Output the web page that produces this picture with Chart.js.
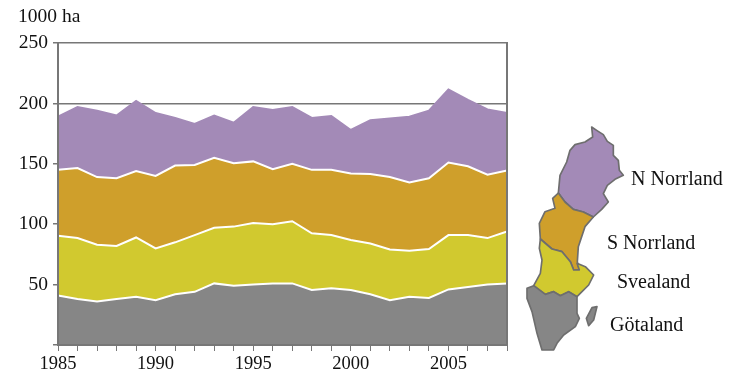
<!DOCTYPE html>
<html>
<head>
<meta charset="utf-8">
<script src="https://cdn.jsdelivr.net/npm/chart.js@4/dist/chart.umd.min.js"></script>
<style>
  html, body { margin: 0; padding: 0; background: #fff; }
  #wrap { position: relative; width: 745px; height: 375px; overflow: hidden; }
  #chart { position: absolute; left: 0; top: 0; }
  #unit { position: absolute; left: 18px; top: 5px; font: 19.5px "Liberation Serif"; color: #111; }
  #map { position: absolute; left: 520px; top: 115px; }
  .lab { position: absolute; font: 20px "Liberation Serif"; color: #111; white-space: nowrap; }
</style>
</head>
<body>
<div id="wrap">
  <canvas id="chart" width="745" height="375"></canvas>
  <div id="unit">1000 ha</div>
  <svg id="map" width="225" height="245" viewBox="0 0 675 735"></svg>
  <div class="lab" style="left:631px;top:167px">N Norrland</div>
  <div class="lab" style="left:607px;top:231px">S Norrland</div>
  <div class="lab" style="left:617px;top:270px">Svealand</div>
  <div class="lab" style="left:610px;top:313px">Götaland</div>
</div>
<script>
const years = ['1985','1986','1987','1988','1989','1990','1991','1992','1993','1994','1995','1996',
  '1997','1998','1999','2000','2001','2002','2003','2004','2005','2006','2007','2008'];
const gotaland = [41,38,36,38,40,37,42,44,51,49,50,51,51,45.5,47,45.5,42,37,40,39,46,48,50,51];
const svealand = [49.5,50.5,47,44,49,43,43,47,46,49,51,49,51.5,47,44,41.5,42,42,38,40.5,45,43,38.5,43];
const sNorrland = [54.5,58,56,56,55,60,63.5,58,58,52.5,51,45.5,47.5,52.5,54,55,57.5,60,56.5,58.5,60,57,52.5,50.5];
const nNorrland = [44,50.5,55,52,58,52,39.5,34,35,33.5,45,49,47,43,44.5,36,44.5,48.5,54.5,56,60.5,55,54,47.5];

const GREY = '#868686';
const YELLOW = '#d1c92f';
const ORANGE = '#cf9f2b';
const PURPLE = '#a38ab7';
const AXIS = '#777777';

const area = (label, data, color, fill, edge) => ({
  label, data, fill,
  backgroundColor: color,
  borderColor: edge,
  borderWidth: 2,
  pointRadius: 0,
  tension: 0,
});

new Chart(document.getElementById('chart'), {
  type: 'line',
  data: {
    labels: years,
    datasets: [
      area('Götaland', gotaland, GREY, 'origin', '#ffffff'),
      area('Svealand', svealand, YELLOW, '-1', '#ffffff'),
      area('S Norrland', sNorrland, ORANGE, '-1', '#ffffff'),
      // top of the stack has no white edge
      area('N Norrland', nNorrland, PURPLE, '-1', PURPLE),
    ],
  },
  options: {
    responsive: false,
    animation: false,
    layout: { padding: { top: 43, right: 238, left: 0, bottom: 0 } },
    plugins: { legend: { display: false }, tooltip: { enabled: false } },
    scales: {
      x: {
        grid: { drawOnChartArea: false, color: AXIS, tickLength: 6, lineWidth: 1 },
        border: { color: AXIS, width: 2, z: 1 },
        afterFit: (s) => { s.height = 30; },
        ticks: {
          autoSkip: false, maxRotation: 0, minRotation: 0, padding: 2,
          color: '#111',
          font: { family: 'Liberation Serif', size: 18.5 },
          callback: function (v) {
            const y = this.getLabelForValue(v);
            return Number(y) % 5 === 0 ? y : '';
          },
        },
      },
      y: {
        stacked: true,
        min: 0,
        max: 250,
        grid: { color: AXIS, tickLength: 5, lineWidth: 1.5 },
        border: { color: AXIS, width: 2, z: 1 },
        afterFit: (s) => { s.width = 58; },
        ticks: {
          stepSize: 50, padding: 5,
          color: '#111',
          font: { family: 'Liberation Serif', size: 19.5 },
          callback: (v) => (v === 0 ? '' : v),
        },
      },
      right: {
        position: 'right',
        min: 0,
        max: 250,
        grid: { display: false },
        border: { color: AXIS, width: 2, z: 1 },
        ticks: { display: false },
        afterFit: (s) => { s.width = 0; },
      },
    },
  },
});

// little outline map of the regions, in zoomed picture units
const mapShapes = [
  [PURPLE, '215,36 230,46 250,59 262,79 280,91 280,121 295,136 298,166 310,181 285,193 262,211 250,236 265,261 245,283 220,306 190,291 160,283 135,261 115,234 120,181 140,141 150,106 165,89 195,81 218,66'],
  [ORANGE, '115,234 135,261 160,283 190,291 220,306 195,335 175,395 172,440 178,465 161,465 151,440 126,410 96,402 61,372 58,325 75,290 105,280 98,250'],
  [YELLOW, '61,372 96,402 126,410 151,440 161,465 178,465 171,445 196,455 221,480 206,510 171,545 146,530 121,542 101,530 76,538 41,512 61,475 66,435 58,400'],
  [GREY, '21,520 41,512 76,538 101,530 121,542 146,530 171,545 171,595 178,610 166,635 131,660 111,685 101,705 66,705 51,655 36,590 21,550'],
  [GREY, '216,578 231,575 221,615 206,632 199,610'],
];
document.getElementById('map').innerHTML = mapShapes.map(([c, pts]) =>
  `<polygon points="${pts}" fill="${c}" stroke="#6e6e6e" stroke-width="5" stroke-linejoin="round"/>`
).join('');
</script>
</body>
</html>
